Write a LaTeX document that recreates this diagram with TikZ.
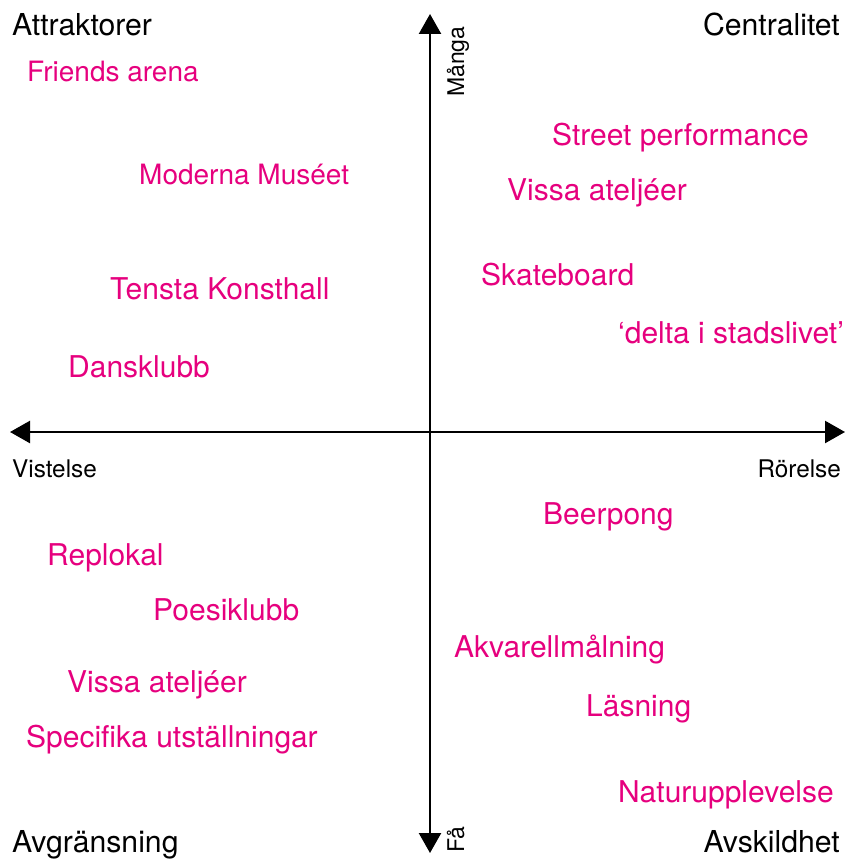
\documentclass[tikz,border=0pt]{standalone}
\usepackage{fontspec}
\setmainfont{TeX Gyre Heros}
\usetikzlibrary{arrows.meta}
\definecolor{mag}{HTML}{E6007E}
\begin{document}
\begin{tikzpicture}[x=1pt,y=-1pt,
  axis/.style={line width=2.4pt,-{Triangle[length=20pt,width=22pt]}},
  item/.style={anchor=base west,inner sep=0pt,text=mag,font=\fontsize{30}{32}\selectfont},
  itemsm/.style={item,font=\fontsize{28}{30}\selectfont},
  corner/.style={inner sep=0pt,text=black,font=\fontsize{30.2}{32}\selectfont},
  small/.style={inner sep=0pt,text=black,font=\fontsize{24.3}{26}\selectfont},
  rot/.style={inner sep=0pt,text=black,font=\fontsize{23}{25}\selectfont,anchor=base west,rotate=90}]
\useasboundingbox (0,0) rectangle (845,864);
\coordinate (c) at (430,432);
\coordinate (top) at (430,14);
\coordinate (bot) at (430,853);
\coordinate (lft) at (10,432);
\coordinate (rgt) at (845,432);
\draw[axis] (c) -- (top);
\draw[axis] (c) -- (bot);
\draw[axis] (c) -- (lft);
\draw[axis] (c) -- (rgt);
% corner labels
\node[corner,anchor=base west] (attr) at (12,36) {Attraktorer};
\node[corner,anchor=base east] (cent) at (840,36) {Centralitet};
\node[corner,anchor=base west] (avgr) at (12,852) {Avgränsning};
\node[corner,anchor=base east] (avsk) at (840,852) {Avskildhet};
% axis labels
\node[small,anchor=base west] (vist) at (12,477) {Vistelse};
\node[small,anchor=base east] (rore) at (841,477) {Rörelse};
\node[rot] (many) at (464,97) {Många};
\node[rot] (fa) at (464,853) {Få};
% items
\node[itemsm] (friends) at (27,82) {Friends arena};
\node[itemsm] (moderna) at (139,184) {Moderna Muséet};
\node[item] (tensta) at (110,299) {Tensta Konsthall};
\node[item] (dans) at (68,377) {Dansklubb};
\node[item] (street) at (552,146) {Street performance};
\node[item] (vissa1) at (507,200) {Vissa ateljéer};
\node[item] (skate) at (481,285) {Skateboard};
\node[item] (delta) at (618,343) {‘delta i stadslivet’};
\node[item] (beer) at (543,524) {Beerpong};
\node[item] (repl) at (47,565) {Replokal};
\node[item] (poes) at (153,620) {Poesiklubb};
\node[item] (akva) at (454,657) {Akvarellmålning};
\node[item] (vissa2) at (67,692) {Vissa ateljéer};
\node[item] (lasn) at (586,716) {Läsning};
\node[item] (spec) at (26,747) {Specifika utställningar};
\node[item] (natur) at (618,802) {Naturupplevelse};
\end{tikzpicture}
\end{document}
